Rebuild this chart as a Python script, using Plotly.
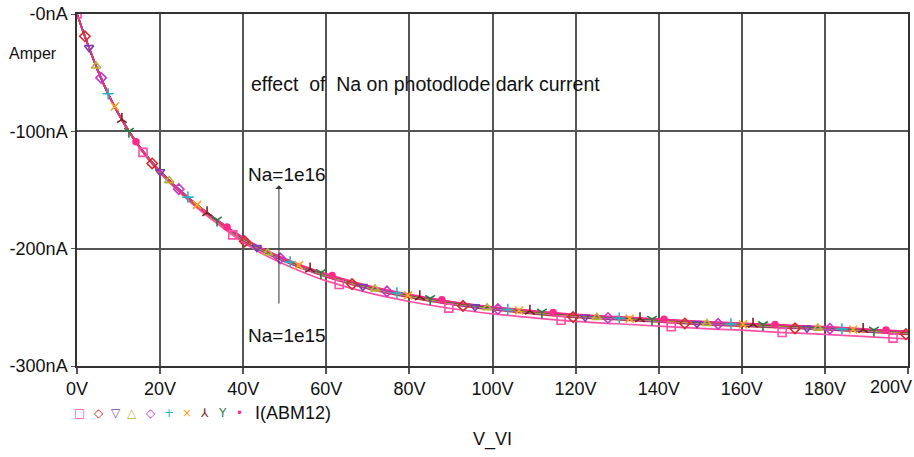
import numpy as np
import plotly.graph_objects as go

# Reverse-bias sweep of the photodiode (V) and dark current (nA) for ten doping levels
V = [0, 2.5, 5, 7.5, 10, 12.5, 15, 17.5, 20, 25, 30, 35, 40, 45, 50, 55, 60,
     70, 80, 90, 100, 110, 120, 130, 140, 150, 160, 170, 180, 190, 200]

I_NA_1E15 = [0, -25, -48, -68, -85.5, -100.5, -114, -125, -135.5, -153, -168.5, -182, -194.5,
             -205, -213.5, -221, -227.5, -237.5, -245, -251, -255.5, -259, -262, -264, -266,
             -268, -269.5, -271.5, -273, -275, -277]
I_NA_2E15 = [0, -25, -48, -68, -85, -100, -113, -125, -135, -152, -167, -180, -193, -203, -211,
             -218, -224, -234, -241.5, -247.5, -252, -255.5, -258.5, -260.5, -262.5, -264.5,
             -266, -267.5, -269, -271, -273]
I_NA_3E15 = [0, -25, -48, -68, -85, -100, -113, -124.5, -134.5, -151.5, -166.5, -179.5, -192.5,
             -202.5, -210.5, -217.5, -223.5, -233.5, -241, -247, -251.5, -255, -258, -260, -262,
             -264, -265.5, -267, -268.5, -270.5, -272.5]
I_NA_4E15 = [0, -25, -48, -68, -85, -100, -113, -124.5, -134.5, -151.5, -166.5, -179.5, -192,
             -202, -210, -217, -223, -233, -240.5, -246.5, -251, -254.5, -257.5, -259.5, -261.5,
             -263.5, -265, -266.5, -268, -270, -272]
I_NA_5E15 = [0, -25, -48, -68, -85, -100, -113, -124, -134, -151, -166, -179, -192, -202, -210,
             -217, -223, -233, -240.5, -246.5, -251, -254.5, -257.5, -259.5, -261.5, -263.5,
             -265, -266.5, -268, -270, -272]
I_NA_6E15 = [0, -25, -48, -68, -85, -100, -113, -124, -134, -151, -166, -179, -191.5, -201.5,
             -209.5, -216.5, -222.5, -232.5, -240, -246, -250.5, -254, -257, -259, -261, -263,
             -264.5, -266, -267.5, -269.5, -271.5]
I_NA_7E15 = [0, -25, -48, -68, -85, -100, -113, -124, -134, -151, -166, -179, -191.5, -201.5,
             -209.5, -216.5, -222.5, -232.5, -240, -246, -250.5, -254, -257, -259, -261, -263,
             -264.5, -266, -267.5, -269.5, -271.5]
I_NA_8E15 = [0, -25, -48, -68, -85, -100, -113, -124, -134, -151, -166, -179, -191, -201, -209,
             -216, -222, -232, -239.5, -245.5, -250, -253.5, -256.5, -258.5, -260.5, -262.5,
             -264, -265.5, -267, -269, -271]
I_NA_9E15 = [0, -25, -48, -68, -85, -100, -113, -124, -134, -151, -166, -179, -191, -201, -209,
             -216, -222, -232, -239.5, -245.5, -250, -253.5, -256.5, -258.5, -260.5, -262.5,
             -264, -265.5, -267, -269, -271]
I_NA_1E16 = [0, -25, -48, -68, -85, -100, -113, -124, -134, -151, -166, -179, -190.5, -200.5,
             -208.5, -215.5, -221.5, -231.5, -239, -245, -249.5, -253, -256, -258, -260, -262,
             -263.5, -265, -266.5, -268.5, -270.5]

# Sweep voltages at which each trace carries its symbol
MARK_V_1 = [0, 15.9, 37.5, 63.1, 89.5, 116.5, 143.0, 169.7, 196.4]
MARK_V_2 = [1.9, 18.1, 40.4, 66.2, 92.9, 119.4, 146.3, 172.8, 199.5]
MARK_V_3 = [2.9, 20.0, 43.3, 68.8, 95.8, 122.3, 149.2, 175.7]
MARK_V_4 = [4.6, 22.2, 45.9, 71.7, 98.7, 125.1, 151.6, 178.3]
MARK_V_5 = [5.8, 24.5, 48.9, 74.6, 101.3, 127.8, 154.3, 181.2]
MARK_V_6 = [7.5, 26.7, 51.3, 77.0, 103.7, 130.5, 157.4, 184.1]
MARK_V_7 = [9.1, 28.9, 53.4, 79.7, 106.4, 133.0, 160.3, 186.8]
MARK_V_8 = [10.8, 31.3, 56.1, 82.5, 109.0, 135.5, 162.7, 189.2]
MARK_V_9 = [12.5, 33.7, 58.7, 85.0, 111.9, 138.4, 165.1, 191.8]
MARK_V_10 = [14.2, 36.1, 61.4, 87.8, 114.6, 141.3, 168.0, 194.7]

NAMES = ["Na=1e15", "Na=2e15", "Na=3e15", "Na=4e15", "Na=5e15",
         "Na=6e15", "Na=7e15", "Na=8e15", "Na=9e15", "Na=1e16"]
CURRENTS = [I_NA_1E15, I_NA_2E15, I_NA_3E15, I_NA_4E15, I_NA_5E15,
            I_NA_6E15, I_NA_7E15, I_NA_8E15, I_NA_9E15, I_NA_1E16]
MARKS = [MARK_V_1, MARK_V_2, MARK_V_3, MARK_V_4, MARK_V_5,
         MARK_V_6, MARK_V_7, MARK_V_8, MARK_V_9, MARK_V_10]

COLORS = ["#ff4fa7", "#d42a2a", "#7a3fb0", "#b5b53a", "#c838c8",
          "#26b5c6", "#ffa31a", "#7a2020", "#1f7f3f", "#ff2a8a"]
SYMBOLS = ["square-open", "diamond-open", "triangle-down-open", "triangle-up-open",
           "diamond-open-dot", "cross-thin-open", "x-thin-open", "y-up-open",
           "y-down-open", "circle"]
SIZES = [8, 8, 8, 8, 8, 8, 8, 8, 8, 6]
LEGEND_GLYPHS = ["\u25a1", "\u25c7", "\u25bd", "\u25b3", "\u25c7",
                 "+", "\u00d7", "\u2144", "Y", "\u2022"]

X_TICKS = [0, 20, 40, 60, 80, 100, 120, 140, 160, 180, 200]
X_LABELS = ["0V", "20V", "40V", "60V", "80V", "100V", "120V", "140V", "160V", "180V", "200V"]
Y_TICKS = [0, -100, -200, -300]
Y_LABELS = ["-0nA", "-100nA", "-200nA", "-300nA"]

FONT = "Liberation Sans, Arial, sans-serif"

fig = go.Figure()

for name, cur, col in zip(NAMES, CURRENTS, COLORS):
    fig.add_trace(go.Scatter(x=V, y=cur, mode="lines", name=name,
                             line=dict(color=col, width=1.7, shape="spline"),
                             showlegend=False))

# symbols sit on each curve at its marker voltages
for name, cur, col, sym, size, mv in zip(NAMES, CURRENTS, COLORS, SYMBOLS, SIZES, MARKS):
    my = np.interp(mv, V, cur)
    fig.add_trace(go.Scatter(x=mv, y=my, mode="markers", name=name,
                             marker=dict(symbol=sym, size=size, color=col,
                                         line=dict(color=col, width=1.6)),
                             showlegend=False))

annotations = [
    dict(text="Amper", xref="paper", yref="paper", x=-0.084, y=0.888,
         xanchor="left", yanchor="middle", showarrow=False,
         font=dict(family=FONT, size=16, color="#111")),
    dict(text="effect  of  Na on photodlode dark current", xref="x", yref="y",
         x=41.3, y=-60, xanchor="left", yanchor="middle", showarrow=False,
         font=dict(family=FONT, size=19.5, color="#111")),
    dict(text="Na=1e16", xref="x", yref="y", x=40.6, y=-137,
         xanchor="left", yanchor="middle", showarrow=False,
         font=dict(family=FONT, size=19, color="#111")),
    dict(text="Na=1e15", xref="x", yref="y", x=40.6, y=-274,
         xanchor="left", yanchor="middle", showarrow=False,
         font=dict(family=FONT, size=19, color="#111")),
    dict(text="", xref="x", yref="y", x=48.6, y=-146, axref="x", ayref="y",
         ax=48.6, ay=-248, showarrow=True, arrowhead=1, arrowsize=1.2,
         arrowwidth=1, arrowcolor="#333"),
    dict(text="V_VI", xref="paper", yref="paper", x=0.5, y=-0.21,
         xanchor="center", yanchor="middle", showarrow=False,
         font=dict(family=FONT, size=18, color="#111")),
    # the last voltage label is held inside the right edge of the page
    dict(text=X_LABELS[-1], xref="x", yref="paper", x=X_TICKS[-1], y=0.0,
         xanchor="right", yanchor="top", xshift=6, yshift=-8.5, showarrow=False,
         font=dict(family=FONT, size=18, color="#111")),
]

# legend strip: one symbol per trace followed by the trace expression
LEG_X = [0.7, 5.3, 9.4, 13.2, 17.8, 22.1, 26.5, 30.8, 34.9, 39.2]
for gx, glyph, col in zip(LEG_X, LEGEND_GLYPHS, COLORS):
    annotations.append(dict(text=glyph, xref="x", yref="paper", x=gx, y=-0.134,
                            xanchor="center", yanchor="middle", showarrow=False,
                            font=dict(family="DejaVu Sans, sans-serif", size=12, color=col)))
annotations.append(dict(text="I(ABM12)", xref="x", yref="paper", x=42.4, y=-0.134,
                        xanchor="left", yanchor="middle", showarrow=False,
                        font=dict(family=FONT, size=18, color="#111")))

fig.update_layout(
    width=914, height=457,
    margin=dict(l=77, r=6, t=14, b=91, autoexpand=False),
    paper_bgcolor="white", plot_bgcolor="white",
    annotations=annotations,
    showlegend=False,
)
fig.update_xaxes(range=[0, 200], tickvals=X_TICKS, ticktext=X_LABELS[:-1] + [""],
                 showgrid=True, gridcolor="#555", gridwidth=1.5,
                 showline=True, linecolor="#333", linewidth=1.5, mirror=True,
                 ticks="outside", ticklen=6, tickcolor="#555", tickwidth=1.5,
                 zeroline=False, automargin=False,
                 tickfont=dict(family=FONT, size=18, color="#111"))
fig.update_yaxes(range=[-300, 0], tickvals=Y_TICKS, ticktext=Y_LABELS,
                 showgrid=True, gridcolor="#555", gridwidth=1.5,
                 showline=True, linecolor="#333", linewidth=1.5, mirror=True,
                 ticks="outside", ticklen=4, tickcolor="#555", tickwidth=1,
                 zeroline=False, automargin=False,
                 tickfont=dict(family=FONT, size=18, color="#111"))

fig.write_html("out.html")
